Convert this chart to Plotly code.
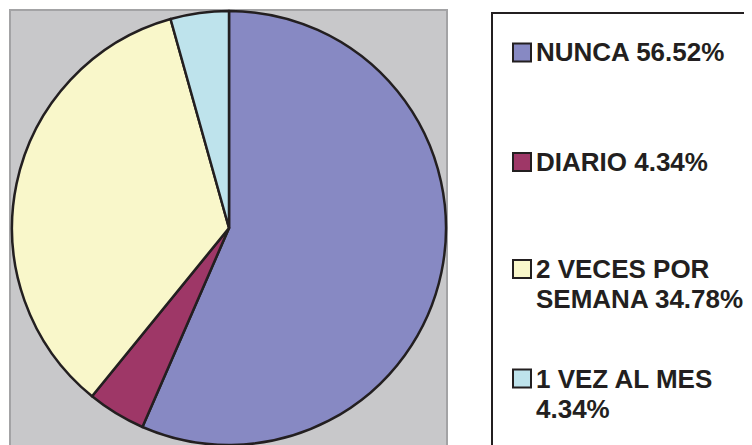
import plotly.graph_objects as go

# ---- data ----
categories = ["NUNCA", "DIARIO", "2 VECES POR SEMANA", "1 VEZ AL MES"]
percentages = [56.52, 4.34, 34.78, 4.34]
colors = ["#8789C3", "#9E3767", "#F9F7CA", "#BEE3EC"]
# legend text as it wraps in the original
legend_lines = [["NUNCA 56.52%"], ["DIARIO 4.34%"], ["2 VECES POR", "SEMANA 34.78%"], ["1 VEZ AL MES", "4.34%"]]

# the page body has an 8px margin; size the figure to the remaining window
OFF = 8
W, H = 752 - OFF, 445 - OFF
def px(x):
    return (x - OFF) / W
def py(y):
    return 1 - (y - OFF) / H

# pie geometry (window pixels)
cx, cy, r = 229, 228, 217

fig = go.Figure()
fig.add_trace(go.Pie(
    labels=categories,
    values=percentages,
    sort=False,
    direction="clockwise",
    rotation=0,
    marker=dict(colors=colors, line=dict(color="#231F20", width=2.5)),
    textinfo="none",
    hoverinfo="label+percent",
    showlegend=False,
    domain=dict(x=[px(cx - r), px(cx + r)], y=[max(0, py(cy + r)), py(cy - r)]),
))

shapes = [
    # gray plot area
    dict(type="rect", xref="paper", yref="paper", x0=px(10), x1=px(447), y0=py(460), y1=py(10),
         fillcolor="#C8C8CA", line=dict(color="#A3A3A5", width=2), layer="below"),
    # legend box
    dict(type="rect", xref="paper", yref="paper", x0=px(492), x1=px(770), y0=py(460), y1=py(13),
         fillcolor="rgba(0,0,0,0)", line=dict(color="#231F20", width=2), layer="above"),
]

annotations = []
item_y = [52.5, 162, 269, 378.5]
line_gap = 30
sq = 18
for i, lines in enumerate(legend_lines):
    y0 = item_y[i]
    shapes.append(dict(type="rect", xref="paper", yref="paper",
                       x0=px(513), x1=px(513 + sq), y0=py(y0 + sq / 2), y1=py(y0 - sq / 2),
                       fillcolor=colors[i], line=dict(color="#231F20", width=2)))
    for j, t in enumerate(lines):
        annotations.append(dict(
            x=px(534), y=py(y0 + j * line_gap), xref="paper", yref="paper",
            xanchor="left", yanchor="middle", showarrow=False, text=t,
            font=dict(family="Liberation Sans, Arial", size=26, color="#231F20", weight="bold"),
        ))

fig.update_layout(
    width=W, height=H,
    margin=dict(l=0, r=0, t=0, b=0),
    paper_bgcolor="white",
    plot_bgcolor="white",
    shapes=shapes,
    annotations=annotations,
)

fig.write_html("out.html")
